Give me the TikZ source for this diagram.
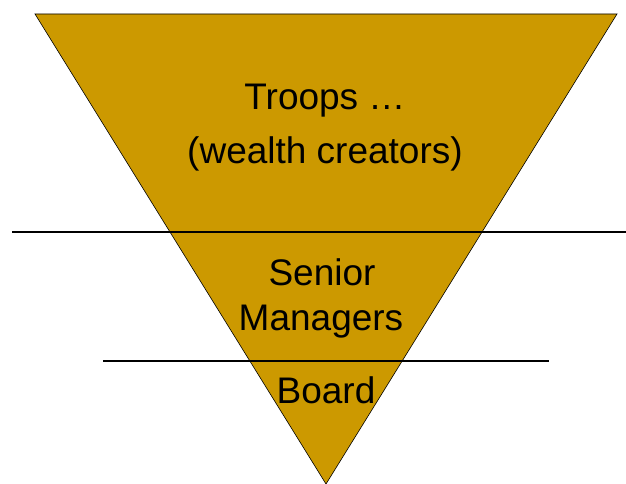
\documentclass[tikz,border=0pt]{standalone}
\usepackage{fontspec}
\setmainfont{Liberation Sans}
\definecolor{gold}{HTML}{CC9900}
\tikzset{lbl/.style={anchor=base, inner sep=0pt, font=\fontsize{37}{44}\selectfont}}

\begin{document}
\begin{tikzpicture}[x=1pt, y=-1pt]
\useasboundingbox (0,0) rectangle (626,484);
\begin{scope}
\fill[gold] (35,14) -- (617,14) -- (326,484) -- cycle;
\draw[line width=0.6pt] (35,14) -- (617,14) -- (326,484) -- cycle;

\draw[line width=1.3pt] (12,232) -- (626,232);
\draw[line width=1.3pt] (103,361) -- (549,361);

\node[lbl] (troops) at (325,110) {Troops …};
\node[lbl] (wealth) at (325,163) {(wealth creators)};
\node[lbl] (senior) at (322,285) {Senior};
\node[lbl] (managers) at (321,330) {Managers};
\node[lbl] (board) at (326,403) {Board};
\end{scope}
\end{tikzpicture}
\end{document}
